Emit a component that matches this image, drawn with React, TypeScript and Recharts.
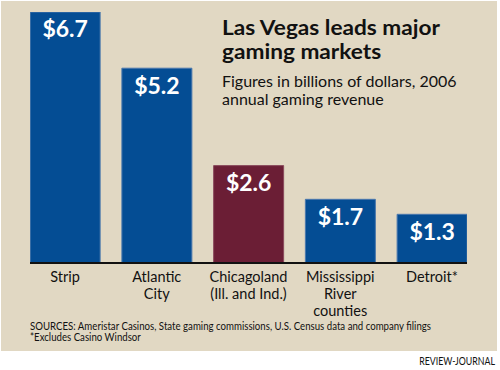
import React from 'react';
import { BarChart, Bar, XAxis, YAxis, Cell, LabelList } from 'recharts';

const markets = ['Strip', 'Atlantic City', 'Chicagoland (Ill. and Ind.)', 'Mississippi River counties', 'Detroit*'];
const tickLines = [['Strip'], ['Atlantic', 'City'], ['Chicagoland', '(Ill. and Ind.)'], ['Mississippi', 'River', 'counties'], ['Detroit*']];
const revenue = [6.7, 5.2, 2.6, 1.7, 1.3];
const highlighted = 'Chicagoland (Ill. and Ind.)';

const titleLines = ['Las Vegas leads major', 'gaming markets'];
const subtitleLines = ['Figures in billions of dollars, 2006', 'annual gaming revenue'];
const sourceLines = [
  'SOURCES: Ameristar Casinos, State gaming commissions, U.S. Census data and company filings',
  '*Excludes Casino Windsor',
];
const credit = 'REVIEW-JOURNAL';

const data = markets.map((name, i) => ({ pos: i, name, revenue: revenue[i] }));

const FONT = 'Lato, Roboto, sans-serif';
const BLUE = '#044d94';
const MAROON = '#6b1e35';
const BEIGE = '#e1d8c3';

// multi-line category labels under each bar
const CategoryTick = (props: any) => {
  const { x, y, payload } = props;
  const lines = tickLines[payload.value] || [];
  return (
    <text x={x} y={y} textAnchor="middle" fontSize={14.5} fill="#111" fontFamily={FONT}>
      {lines.map((line, i) => (
        <tspan key={i} x={x} dy={i === 0 ? 0 : 17}>
          {line}
        </tspan>
      ))}
    </text>
  );
};

const Lines = ({ lines, step }: { lines: string[]; step: number }) => (
  <>
    {lines.map((line, i) => (
      <tspan key={i} x={0} dy={i === 0 ? 0 : step}>
        {line}
      </tspan>
    ))}
  </>
);

export default function App() {
  return (
    <div style={{ position: 'absolute', left: 0, top: 0, width: 500, height: 370, background: '#fff' }}>
      <div style={{ position: 'absolute', left: 1, top: 1, width: 496, height: 350, background: BEIGE }} />
      <div style={{ position: 'absolute', left: 0, top: 0 }}>
        <BarChart width={500} height={370} data={data} margin={{ top: 12, right: 33, left: 30, bottom: 7 }}>
          <XAxis
            dataKey="pos"
            type="number"
            domain={[-0.3815, 4.3815]}
            allowDataOverflow
            ticks={[0, 1, 2, 3, 4]}
            interval={0}
            height={100}
            tickSize={0}
            tickMargin={19}
            tickLine={false}
            axisLine={{ stroke: '#111', strokeWidth: 2 }}
            tick={<CategoryTick />}
          />
          <YAxis hide type="number" domain={[0, 6.7]} allowDataOverflow width={0} />
          <Bar dataKey="revenue" barSize={70} isAnimationActive={false} strokeWidth={1}>
            {data.map((d) => (
              <Cell key={d.name} fill={d.name === highlighted ? MAROON : BLUE} stroke={d.name === highlighted ? '#8a4a5c' : '#4a78ad'} />
            ))}
            <LabelList
              dataKey="revenue"
              position="insideTop"
              offset={9}
              fill="#fff"
              fontSize={23}
              fontWeight={700}
              fontFamily={FONT}
              formatter={(v: any) => `$${Number(v).toFixed(1)}`}
            />
          </Bar>
        </BarChart>
      </div>
      <svg width={500} height={370} style={{ position: 'absolute', left: 0, top: 0, pointerEvents: 'none' }}>
        <text transform="translate(222,34.5) scale(1.1,1)" fontSize={20.6} fontWeight={700} fill="#111" fontFamily={FONT}>
          <Lines lines={titleLines} step={24.8} />
        </text>
        <text transform="translate(222,87)" fontSize={16} fill="#111" fontFamily={FONT}>
          <Lines lines={subtitleLines} step={18} />
        </text>
        <text transform="translate(30,330) scale(0.92,1)" fontSize={10.5} fill="#111" fontFamily={FONT}>
          <Lines lines={sourceLines} step={11} />
        </text>
        <text transform="translate(495,365) scale(0.8,1)" fontSize={11} fill="#111" fontFamily={FONT} textAnchor="end">
          {credit}
        </text>
      </svg>
    </div>
  );
}
